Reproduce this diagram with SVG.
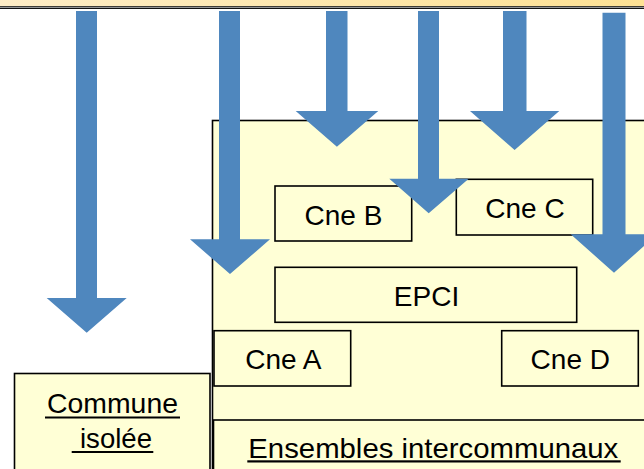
<svg xmlns="http://www.w3.org/2000/svg" width="644" height="469" viewBox="0 0 644 469">
<defs>
<linearGradient id="barGrad" x1="0" y1="0" x2="1" y2="0">
<stop offset="0" stop-color="#FFEDC6"/>
<stop offset="1" stop-color="#FFE294"/>
</linearGradient>
</defs>
<style>
.box{fill:#FFFFD6;stroke:#000;stroke-width:1.6}
.lbl{font-family:"Liberation Sans",Arial,sans-serif;font-size:28px;fill:#000;text-anchor:middle}
.ul{fill:#000}
.arrow{fill:#4F87BE}
</style>
<rect width="644" height="469" fill="#FFFFFF"/>
<g id="topbar">
<rect x="0" y="0" width="644" height="6.5" fill="url(#barGrad)"/>
<rect x="0" y="6.2" width="644" height="1.1" fill="#111"/>
<rect x="0" y="7.3" width="644" height="0.6" fill="#999"/>
<rect x="0" y="7.9" width="644" height="1.1" fill="#111"/>
</g>
<g id="commune-isolee">
<rect class="box" x="14.5" y="373.5" width="195.5" height="100"/>
<text class="lbl" x="112.5" y="413.3" font-size="26" textLength="131" lengthAdjust="spacingAndGlyphs">Commune</text>
<rect class="ul" x="45" y="416.5" width="135" height="2"/>
<text class="lbl" x="116" y="448.3" font-size="26" textLength="72" lengthAdjust="spacingAndGlyphs">isolée</text>
<rect class="ul" x="71.7" y="451" width="81.6" height="2"/>
</g>
<g id="ensembles">
<rect class="box" x="212.5" y="120.5" width="440" height="360"/>
</g>
<g id="ensembles-label">
<rect class="box" x="213.5" y="420" width="440" height="60"/>
<text class="lbl" x="433.3" y="458.3" textLength="370" lengthAdjust="spacingAndGlyphs">Ensembles intercommunaux</text>
<rect class="ul" x="247.3" y="460.3" width="373.4" height="2.2"/>
</g>
<g id="cne-b">
<rect class="box" x="275" y="186" width="136.7" height="55"/>
<text class="lbl" x="343.4" y="225">Cne B</text>
</g>
<g id="cne-c">
<rect class="box" x="456.3" y="179.3" width="136.4" height="55.7"/>
<text class="lbl" x="525" y="218.3">Cne C</text>
</g>
<g id="epci">
<rect class="box" x="275" y="267.3" width="301.7" height="55"/>
<text class="lbl" x="426.5" y="306">EPCI</text>
</g>
<g id="cne-a">
<rect class="box" x="214" y="330.7" width="136.7" height="55.3"/>
<text class="lbl" x="283.3" y="369.3">Cne A</text>
</g>
<g id="cne-d">
<rect class="box" x="501.7" y="330.7" width="136.6" height="55.3"/>
<text class="lbl" x="570.3" y="369.3">Cne D</text>
</g>
<g id="connectors">
<polygon class="arrow" points="76,11 97,11 97,298 126.7,298 86.7,332.7 46.7,298 76,298"/>
<polygon class="arrow" points="219,11 240,11 240,239.3 270,239.3 230,274 190,239.3 219,239.3"/>
<polygon class="arrow" points="326,11 347.5,11 347.5,111 378.3,111 336.9,146.7 295.7,111 326,111"/>
<polygon class="arrow" points="418,11 439,11 439,178.7 468.7,178.7 428.7,213.3 389.3,178.7 418,178.7"/>
<polygon class="arrow" points="503,11 526.5,11 526.5,111 559.3,111 514.6,150 470,111 503,111"/>
<polygon class="arrow" points="602.5,12.7 625.5,12.7 625.5,234.3 657.3,234.3 614,272.7 570.7,234.3 602.5,234.3"/>
</g>
</svg>
